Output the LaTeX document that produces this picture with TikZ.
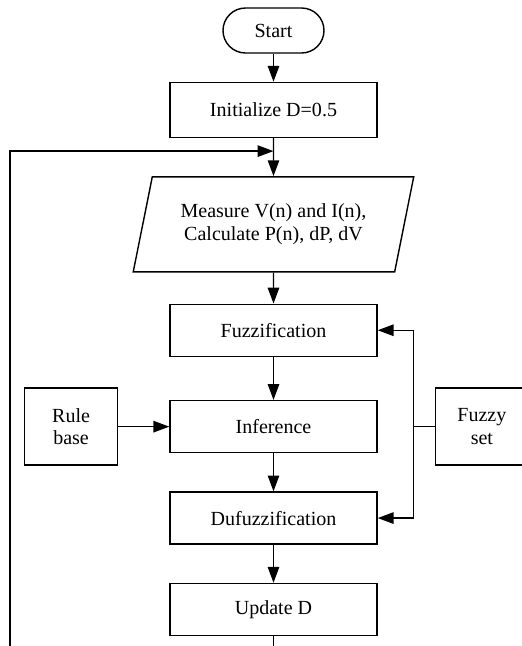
\documentclass[tikz,border=0pt]{standalone}
\usepackage{fontspec}
\setmainfont{Liberation Serif}
\usetikzlibrary{positioning,shapes.geometric,arrows.meta}
\begin{document}
\begin{tikzpicture}[>={Triangle[length=9pt,width=6.5pt]}, line width=0.8pt,
    font=\fontsize{11.4}{13}\selectfont,
    block/.style={draw, rectangle, fill=white, minimum width=4.14cm, minimum height=1.04cm},
    side/.style={draw, rectangle, fill=white, minimum width=1.86cm, minimum height=1.54cm, align=center}]
    % Frame
    \path[use as bounding box, clip] (0,0) rectangle (10.44,-12.92);
    % Main flow
    \node[draw, rectangle, rounded corners=0.45cm, fill=white, minimum width=2.02cm, minimum height=0.9cm] (start) at (5.47,-0.61) {Start};
    \node[block, below=0.56cm of start, minimum height=1.1cm] (init) {Initialize D=0.5};
    \node[draw, trapezium, trapezium left angle=73.6, trapezium right angle=106.4, trapezium stretches=true, fill=white, align=center, minimum width=5.62cm, minimum height=1.9cm, below=0.76cm of init] (meas) {Measure V(n) and I(n),\\Calculate P(n), dP, dV};
    \node[block, below=0.62cm of meas] (fuzz) {Fuzzification};
    \node[block, below=0.86cm of fuzz] (inf) {Inference};
    \node[block, below=0.76cm of inf] (duf) {Dufuzzification};
    \node[block, below=0.76cm of duf] (upd) {Update D};
    % Side blocks
    \node[side, left=1.02cm of inf] (rule) {Rule\\base};
    \node[side, right=1.14cm of inf] (fset) {Fuzzy\\set};
    % Helper points
    \coordinate[below=0.26cm of init] (join);
    \coordinate[right=0.72cm of inf.east] (bus);
    \coordinate[below=1cm of upd.south] (lowmid);
    \coordinate (lowleft) at (0.2,-13.5);
    % Connections
    \draw[->] (start) -- (init);
    \draw[->] (init) -- (meas);
    \draw[->] (meas) -- (fuzz);
    \draw[->] (fuzz) -- (inf);
    \draw[->] (inf) -- (duf);
    \draw[->] (duf) -- (upd);
    \draw[->] (rule) -- (inf);
    \draw (fset) -- (bus);
    \draw[->] (bus) |- (fuzz);
    \draw[->] (bus) |- (duf);
    \draw[->] (upd) -- (lowmid) -| (lowleft) |- (join);
\end{tikzpicture}
\end{document}
